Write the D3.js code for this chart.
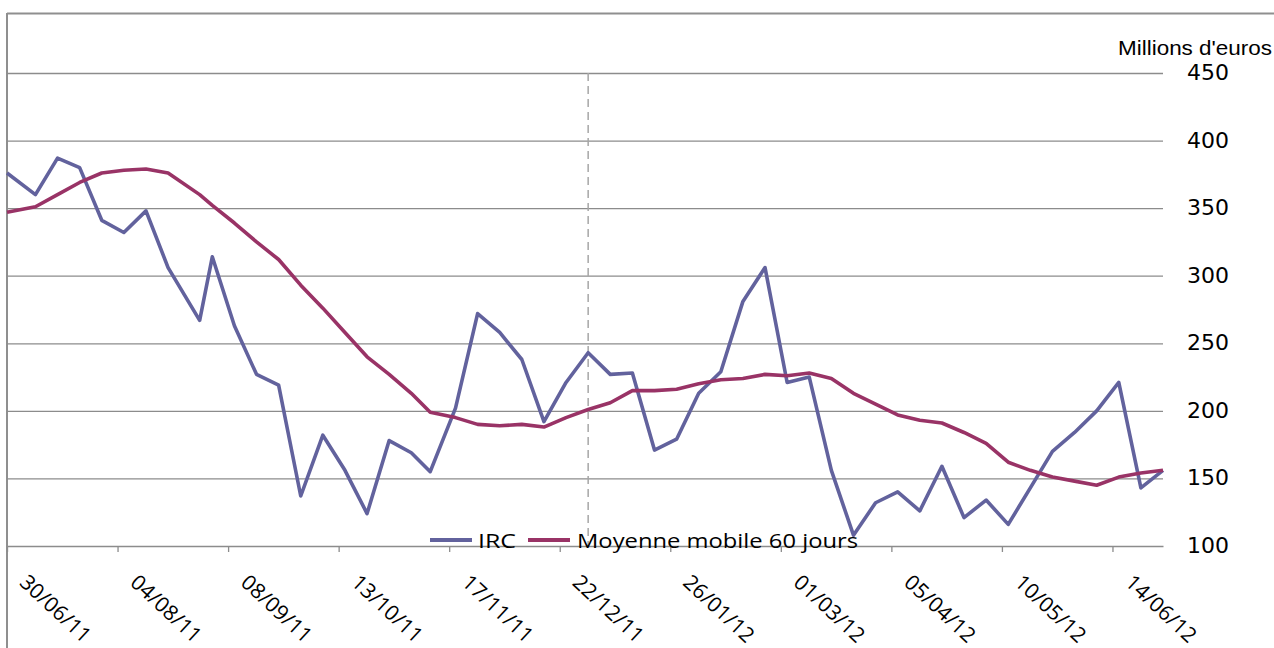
<!DOCTYPE html>
<html>
<head>
<meta charset="utf-8">
<script src="https://cdn.jsdelivr.net/npm/d3@7"></script>
<style>
  html, body { margin: 0; padding: 0; background: #fff; }
  svg { display: block; }
</style>
</head>
<body>
<svg id="chart" width="1274" height="648"></svg>
<script>
// Weekly observation dates (Saturday closes, first point end of June 2011)
const dates = [
  "2011-06-30","2011-07-09","2011-07-16","2011-07-23","2011-07-30","2011-08-06","2011-08-13","2011-08-20",
  "2011-08-30","2011-09-03","2011-09-10","2011-09-17","2011-09-24","2011-10-01","2011-10-08","2011-10-15",
  "2011-10-22","2011-10-29","2011-11-05","2011-11-11","2011-11-19","2011-11-26","2011-12-03","2011-12-10",
  "2011-12-17","2011-12-24","2011-12-31","2012-01-07","2012-01-14","2012-01-21","2012-01-28","2012-02-04",
  "2012-02-11","2012-02-18","2012-02-25","2012-03-03","2012-03-10","2012-03-17","2012-03-24","2012-03-31",
  "2012-04-07","2012-04-14","2012-04-21","2012-04-28","2012-05-05","2012-05-12","2012-05-19","2012-05-26",
  "2012-06-02","2012-06-09","2012-06-16","2012-06-23","2012-06-30"
];

// IRC, millions d'euros
const irc = [
  376, 360, 387, 380, 341, 332, 348, 306,
  267, 314, 263, 227, 219, 137, 182, 156,
  124, 178, 169, 155, 202, 272, 258, 238,
  192, 221, 243, 227, 228, 171, 179, 213,
  229, 281, 306, 221, 225, 156, 108, 132,
  140, 126, 159, 121, 134, 116, 143, 170,
  184, 200, 221, 143, 156
];

// Moyenne mobile 60 jours, millions d'euros
const movingAvg = [
  347, 351, 360, 369, 376, 378, 379, 376,
  360, 352, 339, 325, 312, 293, 276, 258,
  240, 227, 213, 199, 195, 190, 189, 190,
  188, 195, 201, 206, 215, 215, 216, 220,
  223, 224, 227, 226, 228, 224, 213, 205,
  197, 193, 191, 184, 176, 162, 156, 151,
  148, 145, 151, 154, 156
];

const seriesNames = ["IRC", "Moyenne mobile 60 jours"];
const seriesColors = ["#62629d", "#993366"];

const yTicks = [100, 150, 200, 250, 300, 350, 400, 450];
const xTickDates = ["2011-06-30","2011-08-04","2011-09-08","2011-10-13","2011-11-17","2011-12-22",
                    "2012-01-26","2012-03-01","2012-04-05","2012-05-10","2012-06-14"];
const yearEnd = "2011-12-31";
const unitLabel = "Millions d'euros";

const parse = d3.utcParse("%Y-%m-%d");
const fmt = d3.utcFormat("%d/%m/%y");

const svg = d3.select("#chart");
const plot = { left: 7, right: 1163, top: 73, bottom: 546 };

const x = d3.scaleUtc()
  .domain([parse("2011-06-30"), parse("2012-06-30")])
  .range([plot.left, plot.right]);
const y = d3.scaleLinear()
  .domain([100, 450])
  .range([plot.bottom, plot.top]);

// outer frame (top and left edges)
svg.append("line").attr("x1", 7).attr("x2", 1274).attr("y1", 13.5).attr("y2", 13.5)
  .attr("stroke", "#8f8f8f").attr("stroke-width", 2);
svg.append("line").attr("x1", 7).attr("x2", 7).attr("y1", 13).attr("y2", 648)
  .attr("stroke", "#8f8f8f").attr("stroke-width", 2);

// horizontal gridlines
svg.append("g")
  .attr("transform", `translate(${plot.left},0)`)
  .call(d3.axisLeft(y).tickValues(yTicks.filter(v => v > 100)).tickSize(-(plot.right - plot.left)).tickFormat(""))
  .call(g => g.select(".domain").remove())
  .call(g => g.selectAll(".tick line").attr("stroke", "#8c8c8c").attr("stroke-width", 1.3));

// right value labels
const yAxis = svg.append("g")
  .attr("transform", `translate(${plot.right},0)`)
  .call(d3.axisRight(y).tickValues(yTicks).tickSize(0).tickPadding(24))
  .call(g => g.select(".domain").remove());
yAxis.selectAll(".tick text")
  .attr("font-family", "DejaVu Sans, Verdana, sans-serif")
  .attr("font-size", 20.5)
  .attr("fill", "#000")
  .attr("textLength", 42)
  .attr("lengthAdjust", "spacingAndGlyphs");

svg.append("text")
  .attr("x", 1118).attr("y", 55)
  .attr("font-family", "Liberation Sans, Arial, sans-serif")
  .attr("font-size", 19.5)
  .attr("textLength", 154)
  .attr("lengthAdjust", "spacingAndGlyphs")
  .attr("fill", "#000")
  .text(unitLabel);

// year-end marker
svg.append("line")
  .attr("x1", x(parse(yearEnd))).attr("x2", x(parse(yearEnd)))
  .attr("y1", plot.top).attr("y2", plot.bottom)
  .attr("stroke", "#a6a6a6").attr("stroke-width", 1.5)
  .attr("stroke-dasharray", "8,5");

// date axis
const xAxis = svg.append("g")
  .attr("transform", `translate(0,${plot.bottom})`)
  .call(d3.axisBottom(x).tickValues(xTickDates.map(parse)).tickSize(6).tickSizeOuter(0).tickPadding(0).tickFormat(fmt));
xAxis.select(".domain").attr("stroke", "#8c8c8c").attr("stroke-width", 1.5);
xAxis.selectAll(".tick line").attr("stroke", "#8c8c8c").attr("stroke-width", 1.3);
xAxis.selectAll(".tick text")
  .attr("font-family", "Open Sans, sans-serif")
  .attr("font-size", 21)
  .attr("fill", "#000")
  .attr("text-anchor", "start")
  .attr("textLength", 88)
  .attr("lengthAdjust", "spacingAndGlyphs")
  .attr("y", 0).attr("dy", 0)
  .attr("transform", "translate(11,38) rotate(43)");

// series lines
const line = d3.line().x(d => x(d.date)).y(d => y(d.value));
[irc, movingAvg].forEach((vals, i) => {
  const pts = dates.map((d, k) => ({ date: parse(d), value: vals[k] }));
  svg.append("path")
    .datum(pts)
    .attr("fill", "none")
    .attr("stroke", seriesColors[i])
    .attr("stroke-width", 3.6)
    .attr("stroke-linejoin", "round")
    .attr("d", line);
});

// legend
const legendItems = [
  { x1: 430, x2: 472, tx: 478, w: 38 },
  { x1: 528, x2: 570, tx: 577, w: 281 }
];
legendItems.forEach((it, i) => {
  svg.append("line").attr("x1", it.x1).attr("x2", it.x2).attr("y1", 540).attr("y2", 540)
    .attr("stroke", seriesColors[i]).attr("stroke-width", 3.8);
  svg.append("text")
    .attr("x", it.tx).attr("y", 548)
    .attr("font-family", "Open Sans, sans-serif")
    .attr("font-size", 19.5)
    .attr("textLength", it.w)
    .attr("lengthAdjust", "spacingAndGlyphs")
    .attr("fill", "#000")
    .text(seriesNames[i]);
});
</script>
</body>
</html>
